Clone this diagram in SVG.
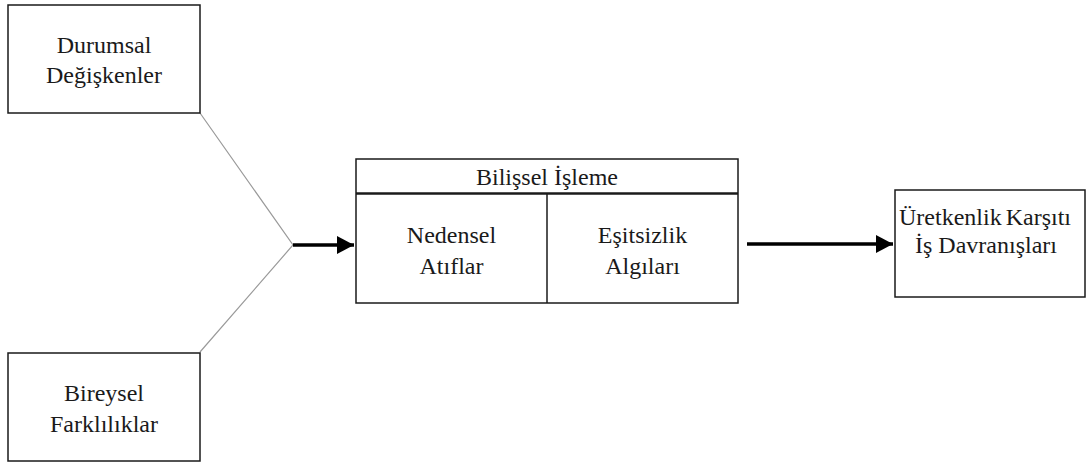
<svg xmlns="http://www.w3.org/2000/svg" width="1086" height="464" viewBox="0 0 1086 464">
  <style>
    .box { fill: #ffffff; stroke: #1a1a1a; stroke-width: 1.5; }
    .div { stroke: #1a1a1a; stroke-width: 1.5; }
    .hdr { stroke: #1a1a1a; stroke-width: 2.5; }
    .lbl { font-family: "Liberation Serif", "Times New Roman", serif; font-size: 24px; fill: #1a1a1a; text-anchor: middle; }
    .thin { stroke: #9a9a9a; stroke-width: 1.2; fill: none; }
    .thick { stroke: #000000; stroke-width: 3.5; fill: none; }
  </style>
  <defs>
    <marker id="arrow" markerUnits="userSpaceOnUse" markerWidth="18" markerHeight="20" refX="17" refY="9" orient="auto">
      <path d="M0,0 L17,9 L0,18 Z" fill="#000000"/>
    </marker>
  </defs>

  <rect width="1086" height="464" fill="#ffffff"/>

  <g id="connectors">
    <polyline class="thin" points="200,113 293,245 200,352"/>
    <line class="thick" x1="293" y1="245" x2="354" y2="245" marker-end="url(#arrow)"/>
    <line class="thick" x1="747" y1="244" x2="893" y2="244" marker-end="url(#arrow)"/>
  </g>

  <g id="durumsal">
    <rect class="box" x="8" y="5" width="192" height="108"/>
    <text class="lbl" x="104" y="53">Durumsal</text>
    <text class="lbl" x="104" y="83">Değişkenler</text>
  </g>

  <g id="bireysel">
    <rect class="box" x="8" y="353" width="192" height="108"/>
    <text class="lbl" x="104" y="401">Bireysel</text>
    <text class="lbl" x="104" y="432">Farklılıklar</text>
  </g>

  <g id="bilissel">
    <rect class="box" x="356" y="159" width="382" height="144"/>
    <line class="hdr" x1="356" y1="193.5" x2="738" y2="193.5"/>
    <line class="div" x1="547" y1="193.5" x2="547" y2="303"/>
    <text class="lbl" x="547" y="185">Bilişsel İşleme</text>
    <text class="lbl" x="451.5" y="243">Nedensel</text>
    <text class="lbl" x="451.5" y="274">Atıflar</text>
    <text class="lbl" x="642.5" y="243">Eşitsizlik</text>
    <text class="lbl" x="642.5" y="274">Algıları</text>
  </g>

  <g id="uretkenlik">
    <rect class="box" x="895" y="190" width="190" height="107"/>
    <text class="lbl" x="985" y="225" word-spacing="-2">Üretkenlik Karşıtı</text>
    <text class="lbl" x="986" y="253">İş Davranışları</text>
  </g>
</svg>
